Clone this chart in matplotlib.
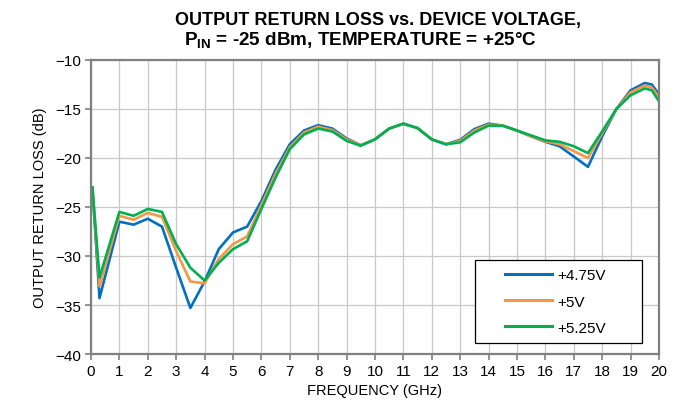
import matplotlib
matplotlib.use("Agg")
import matplotlib.pyplot as plt
from matplotlib.patches import Rectangle
from matplotlib import font_manager

# ---- data ----
freq_ghz = [0.05, 0.3, 1.0, 1.5, 2.0, 2.5, 3.0, 3.5, 4.0, 4.5, 5.0, 5.5, 6.0, 6.5,
            7.0, 7.5, 8.0, 8.5, 9.0, 9.5, 10.0, 10.5, 11.0, 11.5, 12.0, 12.5, 13.0,
            13.5, 14.0, 14.5, 15.0, 15.5, 16.0, 16.5, 17.0, 17.5, 18.0, 18.5, 19.0,
            19.5, 19.75, 20.0]

rl_475 = [-23.0, -34.3, -26.5, -26.8, -26.2, -27.0, -31.2, -35.3, -32.6, -29.3, -27.6,
          -27.0, -24.4, -21.2, -18.6, -17.2, -16.65, -17.0, -18.0, -18.7, -18.1, -17.0,
          -16.5, -16.95, -18.1, -18.6, -18.15, -17.05, -16.5, -16.7, -17.2, -17.8,
          -18.35, -18.8, -19.85, -20.9, -17.8, -15.0, -13.1, -12.35, -12.5, -13.5]
rl_500 = [-23.0, -33.1, -25.9, -26.3, -25.6, -26.0, -29.5, -32.6, -32.8, -30.3, -28.8,
          -28.0, -24.8, -21.6, -18.9, -17.4, -16.8, -17.15, -18.1, -18.7, -18.1, -17.0,
          -16.5, -16.95, -18.1, -18.6, -18.25, -17.2, -16.6, -16.7, -17.2, -17.8,
          -18.3, -18.6, -19.3, -20.0, -17.5, -15.0, -13.3, -12.6, -12.8, -13.8]
rl_525 = [-23.0, -32.2, -25.5, -25.9, -25.2, -25.5, -28.8, -31.2, -32.5, -30.7, -29.3,
          -28.5, -25.2, -22.0, -19.1, -17.6, -17.0, -17.3, -18.25, -18.75, -18.1, -17.0,
          -16.5, -16.95, -18.1, -18.6, -18.4, -17.4, -16.7, -16.7, -17.2, -17.7,
          -18.2, -18.35, -18.8, -19.5, -17.3, -15.0, -13.6, -12.9, -13.1, -14.2]

series_labels = ["+4.75V", "+5V", "+5.25V"]
x_ticks = list(range(0, 21))
y_ticks = [-40, -35, -30, -25, -20, -15, -10]

# ---- style ----
names = {f.name for f in font_manager.fontManager.ttflist}
base = "Liberation Sans"
title_font = base
plt.rcParams["font.family"] = [base, "DejaVu Sans"]
plt.rcParams["mathtext.fontset"] = "custom"
plt.rcParams["mathtext.rm"] = title_font
plt.rcParams["mathtext.bf"] = title_font + ":bold"

colors = ["#0070C0", "#F79646", "#00B050"]
spine_col = "#808080"

fig = plt.figure(figsize=(6.81, 4.06), dpi=100)
ax = fig.add_axes([0.1336, 0.1256, 0.834, 0.7242])

lines = []
for ys, c, lab in zip([rl_475, rl_500, rl_525], colors, series_labels):
    ln, = ax.plot(freq_ghz, ys, color=c, lw=1.9, label=lab, solid_joinstyle="round")
    lines.append(ln)

ax.set_xlim(0, 20)
ax.set_ylim(-40, -10)
ax.set_xticks(x_ticks)
ax.set_yticks(y_ticks)
ax.grid(True, color="#C8C8C8", lw=0.9)
ax.set_axisbelow(True)
for s in ax.spines.values():
    s.set_color(spine_col)
    s.set_linewidth(1.6)
ax.tick_params(axis="both", direction="out", length=4, width=1.2, color=spine_col,
               labelsize=11, labelcolor="black", pad=3)

ax.set_xlabel("FREQUENCY (GHz)", fontsize=10.5, labelpad=4)
ax.set_ylabel("OUTPUT RETURN LOSS (dB)", fontsize=10.5, labelpad=6)

fig.text(0.555, 0.950, "OUTPUT RETURN LOSS vs. DEVICE VOLTAGE,", ha="center", va="center",
         fontsize=13, fontweight="bold", family=title_font)
fig.text(0.529, 0.900, r"P$_{\mathbf{IN}}$ = -25 dBm, TEMPERATURE = +25°C", ha="center",
         va="center", fontsize=13.6, fontweight="bold", family=title_font)

# legend box
ax_w = 568.0
ax_h = 294.0
bx0 = (475 - 91) / ax_w
by0 = (355 - 344) / ax_h
bw = (642 - 475) / ax_w
bh = (344 - 261) / ax_h
ax.add_patch(Rectangle((bx0, by0), bw, bh, transform=ax.transAxes, facecolor="white",
                       edgecolor="black", lw=0.9, zorder=5))
leg = ax.legend(handles=lines, loc="center", bbox_to_anchor=(bx0 + bw / 2 - 0.005, by0 + bh / 2),
                frameon=False, fontsize=11, handlelength=3.1, handletextpad=0.35,
                labelspacing=0.8, borderpad=0.0)
leg.set_zorder(6)
for l in leg.get_lines():
    l.set_linewidth(2.2)

fig.savefig("out.png", dpi=100)
